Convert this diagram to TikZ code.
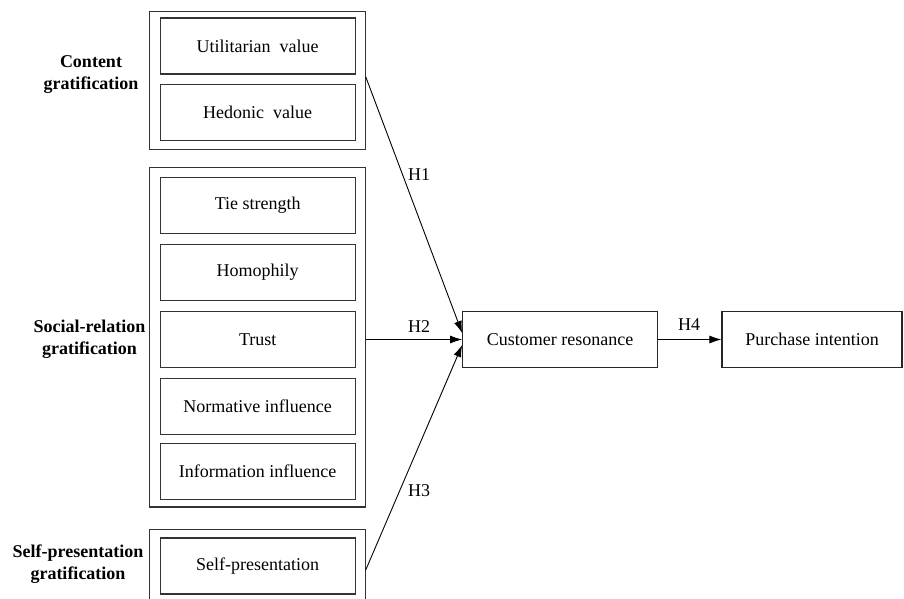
\documentclass[tikz,border=0pt]{standalone}
\usepackage{fontspec}
\setmainfont{Liberation Serif}
\usetikzlibrary{arrows.meta}
\begin{document}
\begin{tikzpicture}[x=1pt,y=-1pt,
  every node/.style={font=\fontsize{18}{22}\selectfont},
  inbox/.style={draw=black!80, line width=1.1pt, minimum width=194.7pt, minimum height=56pt, inner sep=0pt},
  outbox/.style={draw=black!80, line width=1.1pt},
  mainbox/.style={draw=black!85, line width=1.1pt, minimum height=55.6pt, inner sep=0pt},
  grp/.style={font=\fontsize{18}{22}\selectfont\bfseries, align=center},
  hyp/.style={font=\fontsize{18}{22}\selectfont},
  conn/.style={draw=black, line width=0.9pt, -{Latex[length=12pt,width=8pt]}}]
\clip (0,0) rectangle (904,598);
\fill[white] (0,0) rectangle (904,598);
% outer boxes
\draw[outbox] (149.5,11.7) rectangle (365.7,149.3);
\draw[outbox] (149.5,167.3) rectangle (365.7,507);
\draw[outbox] (149.5,529.3) rectangle (365.7,603);
% inner boxes
\node[inbox] (util) at (257.7,46) {Utilitarian\ \ value};
\node[inbox] (hed) at (257.7,112.8) {Hedonic\ \ value};
\node[inbox] (tie) at (257.7,205.3) {Tie strength};
\node[inbox] (homo) at (257.7,272.5) {Homophily};
\node[inbox] (trust) at (257.7,339.5) {Trust};
\node[inbox] (norm) at (257.7,406.2) {Normative influence};
\node[inbox] (info) at (257.7,471.2) {Information influence};
\node[inbox] (self) at (257.7,566) {Self-presentation};
% group labels
\node[grp] (g1) at (91,74.5) {Content\\gratification};
\node[grp] (g2) at (89.5,339.5) {Social-relation\\gratification};
\node[grp] (g3) at (78,564.5) {Self-presentation\\gratification};
% main boxes
\node[mainbox, minimum width=195pt] (cust) at (560.2,339.5) {Customer resonance};
\node[mainbox, minimum width=180pt] (purch) at (812,339.5) {Purchase intention};
% connector starts
\coordinate (s1) at (365.7,76.7);
\coordinate (s2) at (365.7,339.5);
\coordinate (s3) at (365.7,570);
\draw[conn] (s1) -- ([yshift=6.5pt]cust.west);
\draw[conn] (s2) -- (cust.west);
\draw[conn] (s3) -- ([yshift=-5.5pt]cust.west);
\draw[conn] (cust.east) -- (purch.west);
% hypothesis labels
\node[hyp] (h1) at (419,175) {H1};
\node[hyp] (h2) at (419,326.5) {H2};
\node[hyp] (h3) at (419,490.5) {H3};
\node[hyp] (h4) at (689,325) {H4};
\end{tikzpicture}
\end{document}
